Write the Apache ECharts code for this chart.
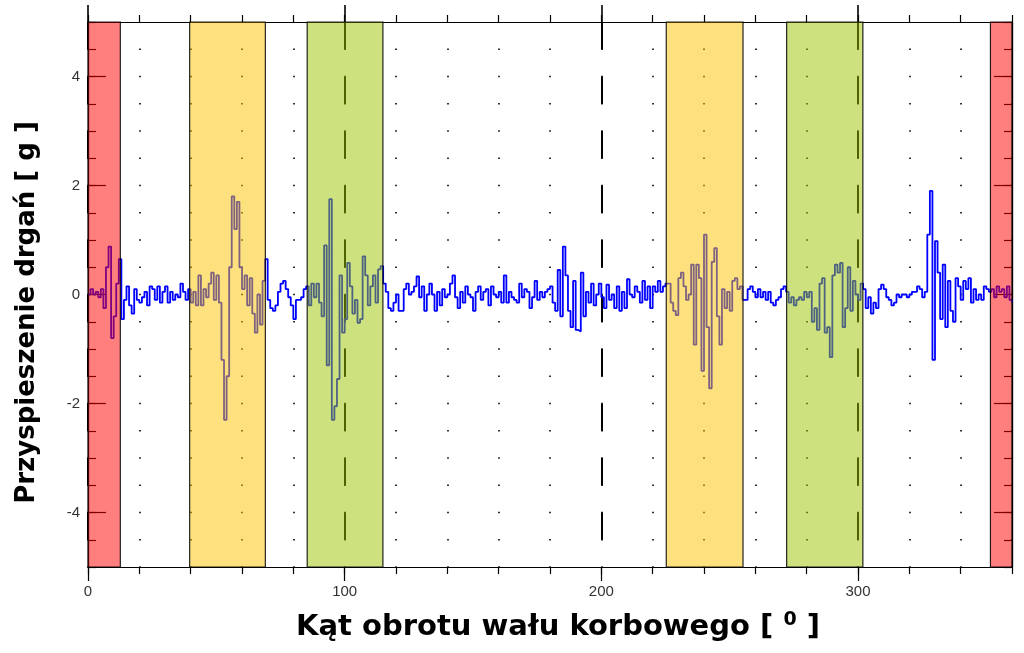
<!DOCTYPE html>
<html>
<head>
<meta charset="utf-8">
<script src="https://cdn.jsdelivr.net/npm/echarts@6/dist/echarts.min.js"></script>
<style>
html,body{margin:0;padding:0;background:#fff;}
#chart{width:1024px;height:653px;}
</style>
</head>
<body>
<div id="chart"></div>
<script>
// ---- data ----
const angleStart = 0;      // first sample angle [deg]
const angleStep = 1;       // sample spacing [deg]
const signal = [
  0.0, 0.1, 0.0, 0.05, -0.05, 0.1, -0.25, 0.5, 0.88, -0.8,
  -0.4, 0.2, 0.65, -0.45, -0.1, 0.15, -0.2, -0.35, 0.1, -0.1,
  -0.15, -0.05, 0.05, -0.2, 0.15, 0.1, -0.1, 0.15, -0.15, 0.05,
  0.15, -0.15, 0.05, -0.1, 0.0, -0.05, 0.2, 0.05, -0.1, 0.1,
  -0.15, 0.05, -0.2, 0.35, -0.2, 0.1, -0.05, 0.2, 0.4, -0.1,
  0.35, -0.15, -1.2, -2.3, -1.5, 0.5, 1.8, 1.2, 1.7, 0.5,
  0.1, 0.35, -0.2, 0.3, -0.35, -0.7, 0.0, -0.55, 0.25, 0.65,
  -0.1, -0.25, -0.3, -0.2, 0.05, 0.2, 0.25, 0.1, -0.05, -0.2,
  -0.45, -0.1, -0.1, -0.05, 0.1, 0.15, -0.2, 0.2, -0.05, 0.2,
  -0.15, -0.4, 0.9, -1.3, 1.75, -2.3, -2.05, -1.55, 0.35, -0.7,
  -0.45, 0.58, 0.15, -0.35, -0.1, -0.52, -0.45, 0.7, 0.35, -0.2,
  0.15, 0.35, -0.15, 0.46, 0.52, 0.2, 0.05, -0.25, -0.3, -0.15,
  0.0, -0.3, -0.3, 0.1, 0.2, 0.0, 0.05, 0.15, 0.33, -0.05,
  0.15, -0.3, 0.0, 0.2, 0.0, -0.3, 0.05, -0.2, 0.1, -0.05,
  0.0, 0.2, 0.35, -0.05, -0.25, 0.05, -0.15, 0.15, 0.0, -0.05,
  -0.3, 0.05, 0.15, -0.1, 0.05, 0.1, -0.2, 0.15, 0.0, -0.05,
  0.05, -0.15, 0.35, -0.15, 0.05, -0.05, -0.1, -0.15, 0.2, -0.05,
  0.1, 0.05, -0.25, -0.05, 0.25, -0.1, 0.05, -0.05, 0.05, 0.1,
  0.15, -0.15, -0.3, 0.45, -0.4, 0.88, 0.35, -0.3, -0.6, 0.25,
  -0.65, -0.68, 0.4, -0.4, 0.05, -0.15, 0.2, -0.2, 0.0, 0.2,
  -0.05, -0.25, 0.18, -0.1, 0.0, -0.25, 0.15, -0.3, 0.05, -0.25,
  0.28, 0.0, -0.05, 0.15, 0.05, -0.15, 0.25, -0.1, 0.15, -0.25,
  0.15, 0.05, 0.25, 0.05, 0.15, 0.2, 0.2, -0.15, -0.3, -0.38,
  0.3, 0.4, 0.15, -0.1, 0.0, 0.55, -0.92, 0.55, 0.3, -1.4,
  1.1, -0.6, -1.72, 0.6, 0.85, -0.4, -0.92, 0.1, -0.25, 0.05,
  -0.3, 0.25, 0.3, 0.1, 0.15, -0.1, -0.1, 0.1, 0.15, 0.05,
  -0.05, 0.1, -0.05, 0.05, -0.1, 0.05, -0.15, -0.2, -0.1, -0.05,
  0.1, 0.15, 0.05, -0.15, -0.05, -0.2, -0.1, -0.05, -0.1, 0.05,
  -0.05, 0.05, -0.5, -0.25, -0.65, 0.2, 0.3, -0.7, -0.6, -1.15,
  0.35, 0.55, 0.4, 0.58, -0.6, -0.25, 0.5, -0.3, 0.25, 0.0,
  -0.1, 0.2, 0.1, -0.25, -0.05, -0.35, -0.15, -0.25, 0.1, 0.18,
  0.1, -0.05, -0.1, -0.2, -0.15, 0.0, -0.05, 0.0, 0.0, -0.05,
  0.0, 0.05, 0.05, 0.15, 0.1, -0.05, 0.05, 1.1, 1.9, -1.2,
  0.98, 0.4, -0.45, 0.55, -0.6, 0.25, -0.3, -0.5, 0.3, 0.15,
  -0.1, 0.25, 0.1, 0.3, -0.15, 0.1, -0.1, 0.0, -0.1, 0.15,
  0.1, 0.05, 0.1, -0.05, 0.15, 0.05, 0.1, -0.05, 0.15, -0.1,
  -0.15
];
// shaded crank-angle windows: [start, end, kind]  kind: 0 red, 1 yellow, 2 green
const bandStarts = [0, 39.6, 85.4, 225.3, 272.2, 351.6];
const bandEnds   = [12.6, 69.1, 114.9, 255.2, 301.9, 360];
const bandKinds  = [0, 1, 2, 1, 2, 0];
const bandFills  = ['rgba(255,0,0,0.5)', 'rgba(253,196,0,0.5)', 'rgba(155,197,0,0.5)'];

const xLabelValues = [0, 100, 200, 300];
const yLabelValues = [-4, -2, 0, 2, 4];
const xMin = 0, xMax = 360, yMin = -5, yMax = 5;

const xTitle = 'Kąt obrotu wału korbowego [ ';
const xTitleSup = '0';
const yTitle = 'Przyspieszenie drgań [ g ]';

// ---- build ----
const lineData = signal.map((v, i) => [angleStart + i * angleStep, v]);
const bandData = bandStarts.map((s, i) => [s, bandEnds[i], bandKinds[i]]);

const labelFont = {fontFamily: 'Liberation Sans', fontSize: 15, color: '#333'};
const titleFontX = {fontFamily: 'DejaVu Sans', fontWeight: 'bold', fontSize: 29, color: '#000'};
const titleFontY = {fontFamily: 'DejaVu Sans', fontWeight: 'bold', fontSize: 26, color: '#000'};
const axisLineStyle = {show: true, onZero: false, lineStyle: {color: '#000', width: 1.2}};
const unitPx = 545 / ((yMax - yMin) * 2); // px per 0.5 g

const chart = echarts.init(document.getElementById('chart'), null, {renderer: 'canvas'});
chart.setOption({
  animation: false,
  backgroundColor: '#fff',
  grid: {left: 88, right: 12, top: 22, bottom: 86, containLabel: false},
  xAxis: [
    { // minor ticks + dot grid (bottom)
      type: 'value', position: 'bottom', min: xMin, max: xMax, interval: 20,
      axisLine: axisLineStyle,
      axisTick: {show: true, inside: false, length: 7, lineStyle: {color: '#000', width: 1.2}},
      axisLabel: {show: false},
      splitLine: {show: true, lineStyle: {color: '#333', width: 2, type: [1.6, unitPx - 1.6], dashOffset: 0.8}}
    },
    { // major ticks + labels + dashed lines (bottom)
      type: 'value', position: 'bottom', min: xMin, max: xMax, interval: 100,
      axisLine: axisLineStyle,
      axisTick: {show: true, inside: false, length: 14, customValues: xLabelValues, lineStyle: {color: '#000', width: 1.2}},
      axisLabel: Object.assign({show: true, margin: 17, showMaxLabel: false,
        formatter: v => xLabelValues.indexOf(v) >= 0 ? String(v) : ''}, labelFont),
      splitLine: {show: true, lineStyle: {color: '#000', width: 2, type: [unitPx, unitPx]}},
      name: '{t|' + xTitle + '}{s|' + xTitleSup + '}{t| ]}',
      nameLocation: 'middle', nameGap: 44,
      nameTextStyle: {
        padding: [0, 0, 0, 16],
        rich: {
          t: titleFontX,
          s: {fontFamily: 'DejaVu Sans', fontWeight: 'bold', fontSize: 19, color: '#000', padding: [0, 0, 14, 0]}
        }
      }
    },
    { // minor ticks top
      type: 'value', position: 'top', min: xMin, max: xMax, interval: 20,
      axisLine: axisLineStyle,
      axisTick: {show: true, inside: false, length: 7, lineStyle: {color: '#000', width: 1.2}},
      axisLabel: {show: false}, splitLine: {show: false}
    },
    { // major ticks top
      type: 'value', position: 'top', min: xMin, max: xMax, interval: 100,
      axisLine: axisLineStyle,
      axisTick: {show: true, inside: false, length: 17, customValues: xLabelValues, lineStyle: {color: '#000', width: 1.6}},
      axisLabel: {show: false}, splitLine: {show: false}
    }
  ],
  yAxis: [
    { // minor inside ticks left
      type: 'value', position: 'left', min: yMin, max: yMax, interval: 0.5,
      axisLine: axisLineStyle,
      axisTick: {show: true, inside: true, length: 8, lineStyle: {color: '#000', width: 1.2}},
      axisLabel: {show: false}, splitLine: {show: false}
    },
    { // major ticks + labels left
      type: 'value', position: 'left', min: yMin, max: yMax, interval: 1,
      axisLine: axisLineStyle,
      axisTick: {show: true, inside: true, length: 18, customValues: yLabelValues, lineStyle: {color: '#000', width: 1.2}},
      axisLabel: Object.assign({show: true, margin: 8, customValues: yLabelValues,
        formatter: v => yLabelValues.indexOf(v) >= 0 ? String(v) : ''}, labelFont),
      splitLine: {show: false},
      name: yTitle, nameLocation: 'middle', nameGap: 48, nameRotate: 90,
      nameTextStyle: Object.assign({padding: [0, 36, 0, 0]}, titleFontY)
    },
    { // minor inside ticks right
      type: 'value', position: 'right', min: yMin, max: yMax, interval: 0.5,
      axisLine: axisLineStyle,
      axisTick: {show: true, inside: true, length: 8, lineStyle: {color: '#000', width: 1.2}},
      axisLabel: {show: false}, splitLine: {show: false}
    },
    { // major inside ticks right
      type: 'value', position: 'right', min: yMin, max: yMax, interval: 1,
      axisLine: axisLineStyle,
      axisTick: {show: true, inside: true, length: 18, customValues: yLabelValues, lineStyle: {color: '#000', width: 1.2}},
      axisLabel: {show: false}, splitLine: {show: false}
    }
  ],
  series: [
    {
      type: 'line', name: 'signal', xAxisIndex: 0, yAxisIndex: 0, z: 2,
      data: lineData, step: 'end', showSymbol: false, symbol: 'none',
      lineStyle: {color: '#0000ff', width: 1.8}, silent: true
    },
    {
      type: 'custom', name: 'bands', xAxisIndex: 0, yAxisIndex: 0, z: 3,
      data: bandData, encode: {x: [0, 1]}, silent: true,
      renderItem: (params, api) => {
        const p0 = api.coord([api.value(0), yMax]);
        const p1 = api.coord([api.value(1), yMin]);
        return {
          type: 'rect',
          shape: {x: p0[0], y: p0[1], width: p1[0] - p0[0], height: p1[1] - p0[1]},
          style: {fill: bandFills[api.value(2)], stroke: 'rgba(0,0,0,0.85)', lineWidth: 1.2}
        };
      }
    }
  ]
});
</script>
</body>
</html>
